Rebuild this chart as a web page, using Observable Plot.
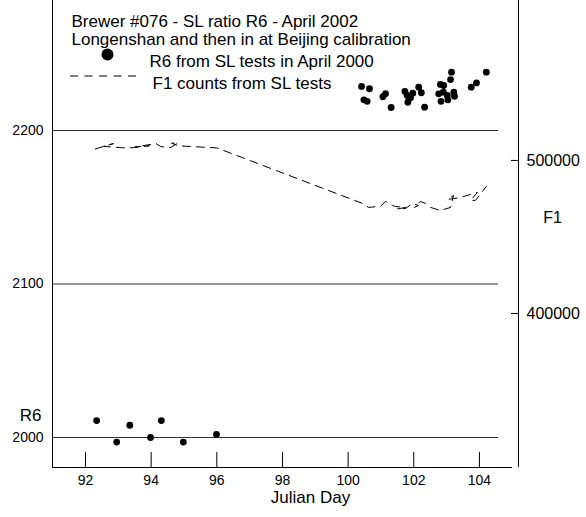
<!DOCTYPE html>
<html><head><meta charset="utf-8">
<script src="https://cdn.jsdelivr.net/npm/d3@7"></script>
<script src="https://cdn.jsdelivr.net/npm/@observablehq/plot@0.6"></script>
<style>body{margin:0;background:#fff}</style>
</head><body><div id="chart"></div>
<script>
// R6 from SL tests (Julian day, R6)
const r6Days = [92.34, 92.95, 93.35, 93.98, 94.31, 94.98, 95.99,
  100.41, 100.48, 100.58, 100.65, 101.06, 101.14, 101.31, 101.73, 101.80, 101.82, 101.90, 101.97,
  102.15, 102.23, 102.33, 102.76, 102.81, 102.83, 102.90, 102.91, 103.02, 103.04, 103.12, 103.15,
  103.22, 103.24, 103.75, 103.91, 104.21];
const r6Values = [2011, 1997, 2008, 2000, 2011, 1997, 2002,
  2228.7, 2220, 2219, 2227.2, 2222, 2224, 2215, 2225.4, 2222.8, 2218.4, 2221.3, 2224.3,
  2228.2, 2224.6, 2215.2, 2223.9, 2230, 2219, 2225, 2229.3, 2222.8, 2220, 2233.2, 2238,
  2225, 2222.3, 2228.2, 2231, 2238];

// F1 counts from SL tests (Julian day, F1), in test order
const f1Days = [92.30, 92.85, 92.55, 93.10, 93.45, 93.95, 93.50, 94.15, 94.30, 94.60, 94.82, 94.62, 94.85, 96.00,
  100.44, 100.62, 100.99, 101.14, 101.35, 101.44, 101.75, 101.50, 101.75, 101.96, 102.14, 102.02, 102.20,
  102.36, 102.51, 102.81, 103.12, 103.21, 103.03, 103.42, 103.73, 103.94, 103.73, 103.88, 104.21];
const f1Values = [507500, 511000, 509200, 508300, 508300, 509600, 508800, 511000, 509000, 508400, 511600, 511200, 509500, 508200,
  471900, 469300, 470100, 473200, 470600, 469900, 469300, 468300, 468600, 471900, 470600, 469300, 473200,
  471900, 469300, 467300, 469300, 477100, 474500, 475800, 477800, 479100, 473900, 473900, 483000];

const xTicks = [92, 94, 96, 98, 100, 102, 104];
const r6Ticks = [2000, 2100, 2200];
const f1Ticks = [400000, 500000];

const titleLines = ["Brewer #076 - SL ratio R6 - April 2002", "Longenshan and then in at Beijing calibration"];
const legendLabels = ["R6 from SL tests in April 2000", "F1 counts from SL tests"];

// secondary axis mapping F1 -> R6 space
const f1ToR6 = d3.scaleLinear().domain([400000, 500000]).range([2080.8, 2180.5]);

const xDomain = [90.995, 105.19];
const yDomain = [1980.46, 2284.69];

const r6Data = r6Days.map((d, i) => ({day: d, v: r6Values[i]}));
const f1Data = f1Days.map((d, i) => ({day: d, v: f1ToR6(f1Values[i])}));

const legendDash = () => d3.create("svg:line")
  .attr("x1", 70).attr("x2", 137).attr("y1", 76).attr("y2", 76)
  .attr("stroke", "black").attr("stroke-width", 1).attr("stroke-dasharray", "8,6.5").node();

const chart = Plot.plot({
  width: 586, height: 517,
  marginLeft: 52, marginRight: 68, marginTop: 0, marginBottom: 50,
  style: {fontFamily: "'Liberation Sans', Arial, sans-serif", fontSize: "14px", background: "white", color: "black"},
  x: {domain: xDomain},
  y: {domain: yDomain},
  marks: [
    Plot.ruleY(r6Ticks, {stroke: "#333", strokeWidth: 1, insetRight: 20}),
    Plot.ruleX([xDomain[0]], {stroke: "black"}),
    Plot.ruleX([xDomain[1]], {stroke: "black"}),
    Plot.ruleY([yDomain[0]], {stroke: "black", insetRight: 6}),
    Plot.ruleX(xTicks, {stroke: "black", insetTop: 452}),
    Plot.ruleY(f1Ticks.map(f1ToR6), {stroke: "black", insetLeft: 459}),
    Plot.axisX(xTicks, {tickSize: 0, tickPadding: 8, label: null, fontSize: 14, tickFormat: d => String(d)}),
    Plot.axisY(r6Ticks, {anchor: "left", tickSize: 0, tickPadding: 9, label: null, fontSize: 14, tickFormat: d => String(d)}),
    Plot.axisY(f1Ticks.map(f1ToR6), {anchor: "right", tickSize: 0, tickPadding: 8, label: null, fontSize: 16,
      tickFormat: d => String(Math.round(f1ToR6.invert(d) / 1000) * 1000)}),
    Plot.line(f1Data, {x: "day", y: "v", stroke: "black", strokeWidth: 1, strokeDasharray: "8,6"}),
    Plot.dot(r6Data, {x: "day", y: "v", r: 3.4, fill: "black", stroke: "none"}),
    // annotations
    Plot.text([titleLines[0]], {text: d => d, frameAnchor: "top-left", dx: 19, dy: 14, textAnchor: "start", fontSize: 17}),
    Plot.text([titleLines[1]], {text: d => d, frameAnchor: "top-left", dx: 19, dy: 32, textAnchor: "start", fontSize: 17}),
    Plot.dot([0], {frameAnchor: "top-left", dx: 55, dy: 54, r: 6, fill: "black", stroke: "none"}),
    Plot.text([legendLabels[0]], {text: d => d, frameAnchor: "top-left", dx: 97, dy: 54, textAnchor: "start", fontSize: 17}),
    legendDash,
    Plot.text([legendLabels[1]], {text: d => d, frameAnchor: "top-left", dx: 100, dy: 76, textAnchor: "start", fontSize: 17}),
    Plot.text(["R6"], {text: d => d, frameAnchor: "top-left", dx: -22, dy: 408, textAnchor: "middle", fontSize: 17}),
    Plot.text(["F1"], {text: d => d, frameAnchor: "top-right", dx: 34, dy: 211, textAnchor: "middle", fontSize: 16}),
    Plot.text(["Julian Day"], {text: d => d, frameAnchor: "bottom-left", dx: 258, dy: 35, textAnchor: "middle", fontSize: 17})
  ]
});
document.getElementById("chart").appendChild(chart);
</script>
</body></html>
